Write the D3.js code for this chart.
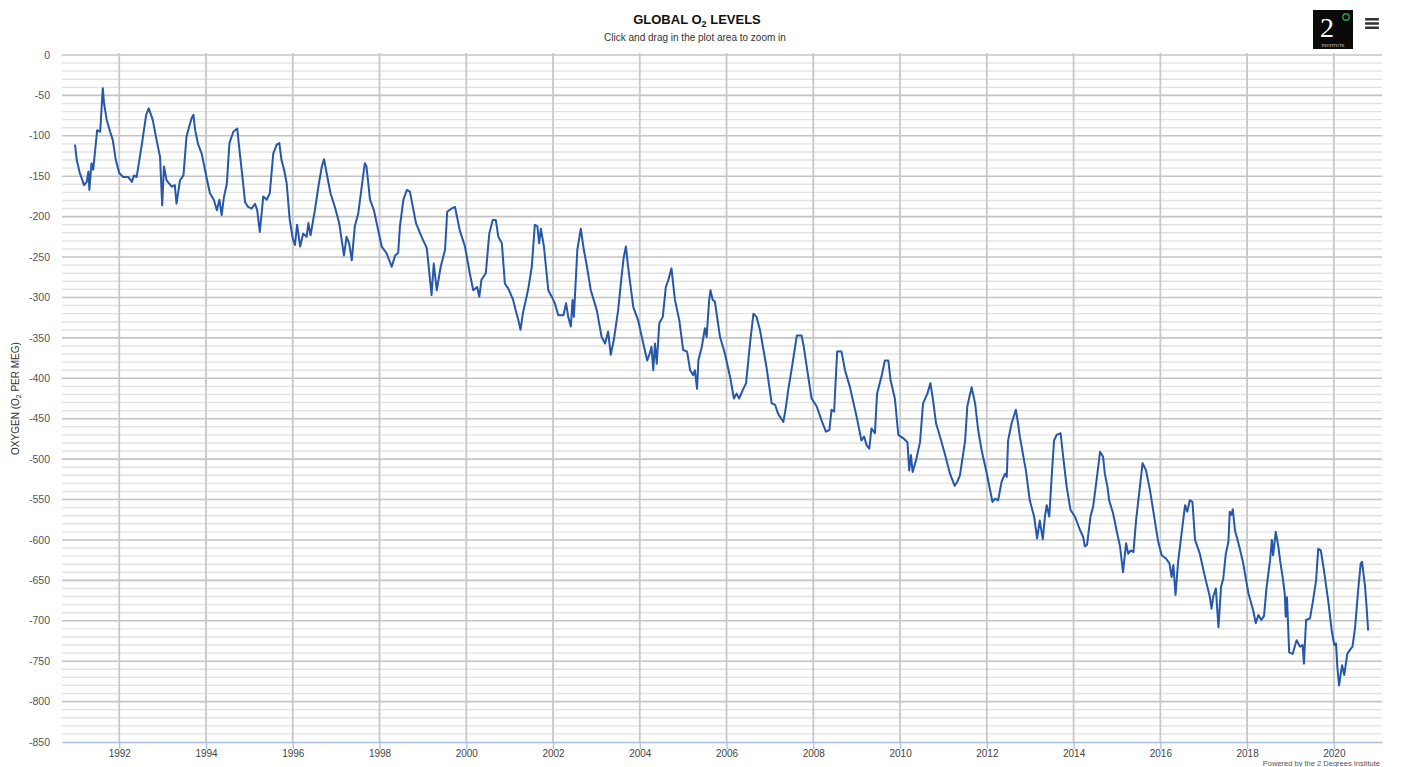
<!DOCTYPE html>
<html>
<head>
<meta charset="utf-8">
<script src="https://cdn.jsdelivr.net/npm/d3@7"></script>
<style>
  body { margin: 0; background: #fff; }
  svg { display: block; font-family: "Liberation Sans", Arial, sans-serif; }
</style>
</head>
<body>
<svg id="chart"></svg>
<script>
// decimal year of each reading
const years = [
  1990.98, 1991.02, 1991.09, 1991.19, 1991.25, 1991.29, 1991.31, 1991.36, 1991.40, 1991.49, 1991.56, 1991.62, 1991.65, 1991.71, 1991.79, 1991.85, 1991.92,
  1992.00, 1992.09, 1992.21, 1992.29, 1992.34, 1992.40, 1992.52, 1992.62, 1992.68, 1992.77, 1992.86, 1992.94, 1992.99,
  1993.03, 1993.09, 1993.21, 1993.28, 1993.32, 1993.40, 1993.48, 1993.55, 1993.61, 1993.67, 1993.71, 1993.75, 1993.82, 1993.90,
  1994.01, 1994.09, 1994.18, 1994.25, 1994.31, 1994.36, 1994.41, 1994.48, 1994.54, 1994.63, 1994.72, 1994.78, 1994.84, 1994.90, 1994.97,
  1995.05, 1995.13, 1995.18, 1995.24, 1995.32, 1995.40, 1995.47, 1995.55, 1995.63, 1995.69, 1995.74, 1995.80, 1995.86, 1995.93,
  1996.00, 1996.05, 1996.10, 1996.17, 1996.24, 1996.32, 1996.36, 1996.41, 1996.51, 1996.59, 1996.67, 1996.72, 1996.78, 1996.87, 1996.97,
  1997.07, 1997.18, 1997.24, 1997.30, 1997.36, 1997.43, 1997.51, 1997.59, 1997.66, 1997.70, 1997.78, 1997.87, 1997.97,
  1998.05, 1998.16, 1998.28, 1998.36, 1998.43, 1998.47, 1998.55, 1998.63, 1998.70, 1998.84, 1998.97,
  1999.09, 1999.20, 1999.25, 1999.32, 1999.41, 1999.51, 1999.56, 1999.66, 1999.74, 1999.85, 1999.97,
  2000.08, 2000.16, 2000.25, 2000.30, 2000.35, 2000.45, 2000.53, 2000.61, 2000.68, 2000.74, 2000.82, 2000.89, 2000.97,
  2001.08, 2001.14, 2001.20, 2001.25, 2001.31, 2001.39, 2001.43, 2001.51, 2001.58, 2001.64, 2001.68, 2001.72, 2001.79, 2001.89, 2001.97,
  2002.04, 2002.12, 2002.24, 2002.30, 2002.35, 2002.41, 2002.45, 2002.48, 2002.56, 2002.64, 2002.71, 2002.77, 2002.87,
  2003.01, 2003.12, 2003.20, 2003.27, 2003.33, 2003.40, 2003.50, 2003.58, 2003.63, 2003.68, 2003.73, 2003.85, 2003.96,
  2004.08, 2004.17, 2004.23, 2004.27, 2004.31, 2004.35, 2004.39, 2004.45, 2004.53, 2004.60, 2004.66, 2004.73, 2004.81, 2004.91,
  2005.00, 2005.09, 2005.16, 2005.23, 2005.27, 2005.32, 2005.35, 2005.43, 2005.50, 2005.54, 2005.60, 2005.63, 2005.68, 2005.73, 2005.85, 2005.96,
  2006.08, 2006.17, 2006.23, 2006.29, 2006.37, 2006.45, 2006.54, 2006.62, 2006.69, 2006.77, 2006.92,
  2007.04, 2007.12, 2007.19, 2007.31, 2007.37, 2007.42, 2007.52, 2007.62, 2007.73, 2007.78, 2007.86, 2007.96,
  2008.08, 2008.19, 2008.29, 2008.37, 2008.42, 2008.48, 2008.55, 2008.65, 2008.73, 2008.84,
  2009.00, 2009.11, 2009.17, 2009.23, 2009.29, 2009.34, 2009.42, 2009.47, 2009.58, 2009.65, 2009.73, 2009.78, 2009.88, 2009.96,
  2010.07, 2010.17, 2010.21, 2010.25, 2010.29, 2010.37, 2010.46, 2010.53, 2010.63, 2010.70, 2010.76, 2010.83, 2010.92,
  2011.03, 2011.15, 2011.26, 2011.32, 2011.38, 2011.50, 2011.55, 2011.59, 2011.65, 2011.73, 2011.80, 2011.88,
  2012.00, 2012.13, 2012.19, 2012.26, 2012.34, 2012.42, 2012.46, 2012.49, 2012.57, 2012.67, 2012.72, 2012.76, 2012.83, 2012.90, 2012.99,
  2013.09, 2013.16, 2013.22, 2013.29, 2013.34, 2013.38, 2013.44, 2013.49, 2013.55, 2013.61, 2013.70, 2013.76, 2013.84, 2013.93,
  2014.03, 2014.15, 2014.22, 2014.26, 2014.31, 2014.39, 2014.45, 2014.53, 2014.61, 2014.68, 2014.72, 2014.78, 2014.82, 2014.91, 2014.99,
  2015.07, 2015.14, 2015.21, 2015.26, 2015.32, 2015.38, 2015.44, 2015.51, 2015.59, 2015.67, 2015.76, 2015.84, 2015.88, 2015.95,
  2016.03, 2016.13, 2016.21, 2016.26, 2016.30, 2016.35, 2016.41, 2016.49, 2016.57, 2016.62, 2016.68, 2016.74, 2016.80, 2016.91,
  2017.03, 2017.14, 2017.18, 2017.22, 2017.28, 2017.34, 2017.40, 2017.45, 2017.51, 2017.57, 2017.60, 2017.64, 2017.67, 2017.72, 2017.82, 2017.91,
  2018.03, 2018.14, 2018.20, 2018.26, 2018.33, 2018.39, 2018.45, 2018.53, 2018.57, 2018.60, 2018.66, 2018.72, 2018.76, 2018.83, 2018.87, 2018.89, 2018.92, 2018.97,
  2019.05, 2019.14, 2019.22, 2019.28, 2019.31, 2019.36, 2019.45, 2019.52, 2019.59, 2019.64, 2019.70, 2019.77, 2019.87, 2019.95,
  2020.01, 2020.05, 2020.08, 2020.12, 2020.16, 2020.19, 2020.24, 2020.31, 2020.37, 2020.43, 2020.49, 2020.56, 2020.62, 2020.65, 2020.72, 2020.76, 2020.79
];

// O2 in per meg, same order as years
const o2 = [
  -111, -130, -146, -161, -157, -144, -167, -134, -142, -93, -95, -41, -60, -80, -95, -105, -130,
  -146, -151, -151, -157, -149, -151, -111, -74, -66, -80, -105, -126, -186,
  -138, -155, -163, -161, -184, -155, -149, -101, -89, -78, -74, -93, -111, -122,
  -151, -171, -179, -192, -179, -198, -177, -159, -109, -95, -91, -122, -151, -182, -188,
  -190, -184, -192, -219, -175, -179, -171, -122, -111, -109, -130, -142, -159, -204,
  -227, -235, -210, -237, -221, -225, -208, -223, -192, -163, -138, -129, -146, -171, -188,
  -208, -248, -225, -233, -254, -212, -196, -163, -134, -138, -179, -192, -217,
  -237, -245, -262, -248, -245, -212, -179, -167, -169, -208, -225,
  -239, -297, -258, -291, -262, -241, -194, -190, -188, -217, -237,
  -270, -291, -287, -299, -278, -270, -221, -204, -204, -225, -233, -283, -289,
  -303, -316, -328, -340, -318, -299, -289, -262, -210, -212, -233, -215, -237, -291, -299,
  -307, -322, -322, -307, -324, -336, -303, -324, -241, -215, -241, -258, -291,
  -316, -349, -357, -342, -371, -353, -316, -274, -250, -237, -262, -312, -328,
  -357, -378, -369, -361, -390, -357, -382, -332, -324, -287, -278, -264, -303, -328,
  -365, -367, -390, -396, -390, -413, -378, -361, -338, -349, -303, -291, -303, -305, -349, -369,
  -398, -425, -419, -425, -415, -406, -357, -320, -324, -340, -386,
  -431, -433, -444, -454, -435, -415, -382, -347, -347, -361, -390, -425,
  -435, -452, -466, -464, -439, -441, -367, -367, -390, -410,
  -448, -477, -472, -483, -487, -462, -468, -419, -396, -378, -378, -402, -425, -470,
  -474, -479, -514, -495, -516, -501, -479, -431, -419, -406, -427, -456, -472,
  -493, -518, -533, -528, -520, -477, -435, -425, -411, -431, -464, -489,
  -518, -553, -549, -551, -528, -518, -522, -477, -456, -439, -456, -472, -493, -514, -551,
  -571, -598, -576, -599, -571, -557, -571, -526, -477, -470, -468, -497, -534, -563,
  -571, -588, -596, -608, -606, -571, -559, -526, -491, -497, -518, -534, -551, -567, -588,
  -608, -640, -604, -617, -613, -615, -576, -543, -505, -514, -538, -565, -579, -602,
  -619, -623, -629, -646, -631, -668, -627, -592, -557, -565, -551, -553, -600, -617,
  -646, -670, -685, -670, -660, -708, -658, -648, -617, -602, -565, -569, -562, -588, -608, -629,
  -666, -687, -703, -693, -699, -694, -658, -625, -600, -619, -590, -608, -625, -650, -668, -695, -671, -739,
  -741, -724, -732, -730, -753, -699, -697, -675, -650, -611, -613, -637, -675, -712,
  -730, -728, -757, -780, -765, -755, -767, -741, -736, -732, -708, -662, -629, -627, -658, -687, -712
];

const xTickYears = [1992, 1994, 1996, 1998, 2000, 2002, 2004, 2006, 2008, 2010, 2012, 2014, 2016, 2018, 2020];
const yLabelValues = [0, -50, -100, -150, -200, -250, -300, -350, -400, -450, -500, -550, -600, -650, -700, -750, -800, -850];

const width = 1412, height = 767;
const margin = { top: 55, right: 30, bottom: 25, left: 62 };

const data = years.map((y, i) => ({ year: y, value: o2[i] }));

const svg = d3.select("#chart").attr("width", width).attr("height", height);

const x = d3.scaleLinear().domain([1990.68, 2021.11]).range([margin.left, width - margin.right]);
const y = d3.scaleLinear().domain([-850, 0]).range([height - margin.bottom, margin.top]);

// minor horizontal grid every 10
svg.append("g").selectAll("line")
  .data(d3.range(-840, 1, 10).filter(v => v % 50 !== 0))
  .join("line")
    .attr("x1", margin.left).attr("x2", width - margin.right)
    .attr("y1", d => y(d)).attr("y2", d => y(d))
    .attr("stroke", "#e2e2e2").attr("stroke-width", 1.4);

// major horizontal grid every 50
svg.append("g").selectAll("line")
  .data(yLabelValues.filter(v => v > -850))
  .join("line")
    .attr("x1", margin.left).attr("x2", width - margin.right)
    .attr("y1", d => y(d)).attr("y2", d => y(d))
    .attr("stroke", "#c4c4c4").attr("stroke-width", 1.6);

// vertical grid
svg.append("g").selectAll("line")
  .data(xTickYears)
  .join("line")
    .attr("x1", d => x(d)).attr("x2", d => x(d))
    .attr("y1", margin.top - 2).attr("y2", height - margin.bottom)
    .attr("stroke", "#c8c8c8").attr("stroke-width", 1.8);

// x axis
const xAxis = svg.append("g")
  .attr("transform", `translate(0,${height - margin.bottom})`)
  .call(d3.axisBottom(x).tickValues(xTickYears).tickFormat(d3.format("d"))
    .tickSizeInner(7).tickSizeOuter(0).tickPadding(1));
xAxis.select(".domain").attr("stroke", "#a9bfe4").attr("stroke-width", 1.5);
xAxis.selectAll(".tick line").attr("stroke", "#a9bfe4").attr("stroke-width", 1.3);
xAxis.selectAll(".tick text").attr("fill", "#444").attr("font-size", 10)
  .attr("font-family", "Liberation Sans, Arial, sans-serif");

// y labels
svg.append("g").selectAll("text")
  .data(yLabelValues)
  .join("text")
    .attr("x", 50).attr("y", d => y(d)).attr("dy", "0.35em")
    .attr("text-anchor", "end")
    .attr("font-size", 10.5).attr("fill", "#555")
    .text(d => d);

// y axis title
const yTitle = svg.append("text")
  .attr("transform", `translate(19,${(margin.top + height - margin.bottom) / 2}) rotate(-90)`)
  .attr("text-anchor", "middle").attr("font-size", 10).attr("fill", "#333");
yTitle.append("tspan").text("OXYGEN (O");
yTitle.append("tspan").attr("font-size", 7).attr("dy", 2).text("2");
yTitle.append("tspan").attr("dy", -2).text(" PER MEG)");

// series
svg.append("path")
  .datum(data)
  .attr("fill", "none")
  .attr("stroke", "#2557aa")
  .attr("stroke-width", 2)
  .attr("stroke-linejoin", "round")
  .attr("d", d3.line().x(d => x(d.year)).y(d => y(d.value)));

// title
const title = svg.append("text")
  .attr("x", 697).attr("y", 24).attr("text-anchor", "middle")
  .attr("font-size", 13).attr("font-weight", "bold").attr("fill", "#111");
title.append("tspan").text("GLOBAL O");
title.append("tspan").attr("font-size", 9).attr("dy", 3).text("2");
title.append("tspan").attr("dy", -3).text(" LEVELS");

svg.append("text")
  .attr("x", 695).attr("y", 41).attr("text-anchor", "middle")
  .attr("font-size", 10).attr("fill", "#333")
  .text("Click and drag in the plot area to zoom in");

// logo
const logo = svg.append("g").attr("transform", "translate(1313,10)");
logo.append("rect").attr("width", 40).attr("height", 39).attr("fill", "#0a0a0a");
logo.append("text").attr("x", 14).attr("y", 27).attr("text-anchor", "middle")
  .attr("font-family", "Liberation Serif, DejaVu Serif, serif")
  .attr("font-size", 28).attr("fill", "#fff").text("2");
logo.append("circle").attr("cx", 33).attr("cy", 7).attr("r", 3.2)
  .attr("fill", "none").attr("stroke", "#1fa34a").attr("stroke-width", 1.4);
logo.append("text").attr("x", 20).attr("y", 37).attr("text-anchor", "middle")
  .attr("font-family", "Liberation Serif, serif")
  .attr("font-size", 4.5).attr("fill", "#ddd").text("INSTITUTE");

// menu icon
svg.append("g").selectAll("rect")
  .data([0, 1, 2])
  .join("rect")
    .attr("x", 1365).attr("y", d => 18 + d * 4.2)
    .attr("width", 14).attr("height", 2.6).attr("rx", 0.8)
    .attr("fill", "#333");

// credit
svg.append("text")
  .attr("x", 1380).attr("y", 766).attr("text-anchor", "end")
  .attr("font-size", 7.5).attr("fill", "#555")
  .text("Powered by the 2 Degrees Institute");
</script>
</body>
</html>
